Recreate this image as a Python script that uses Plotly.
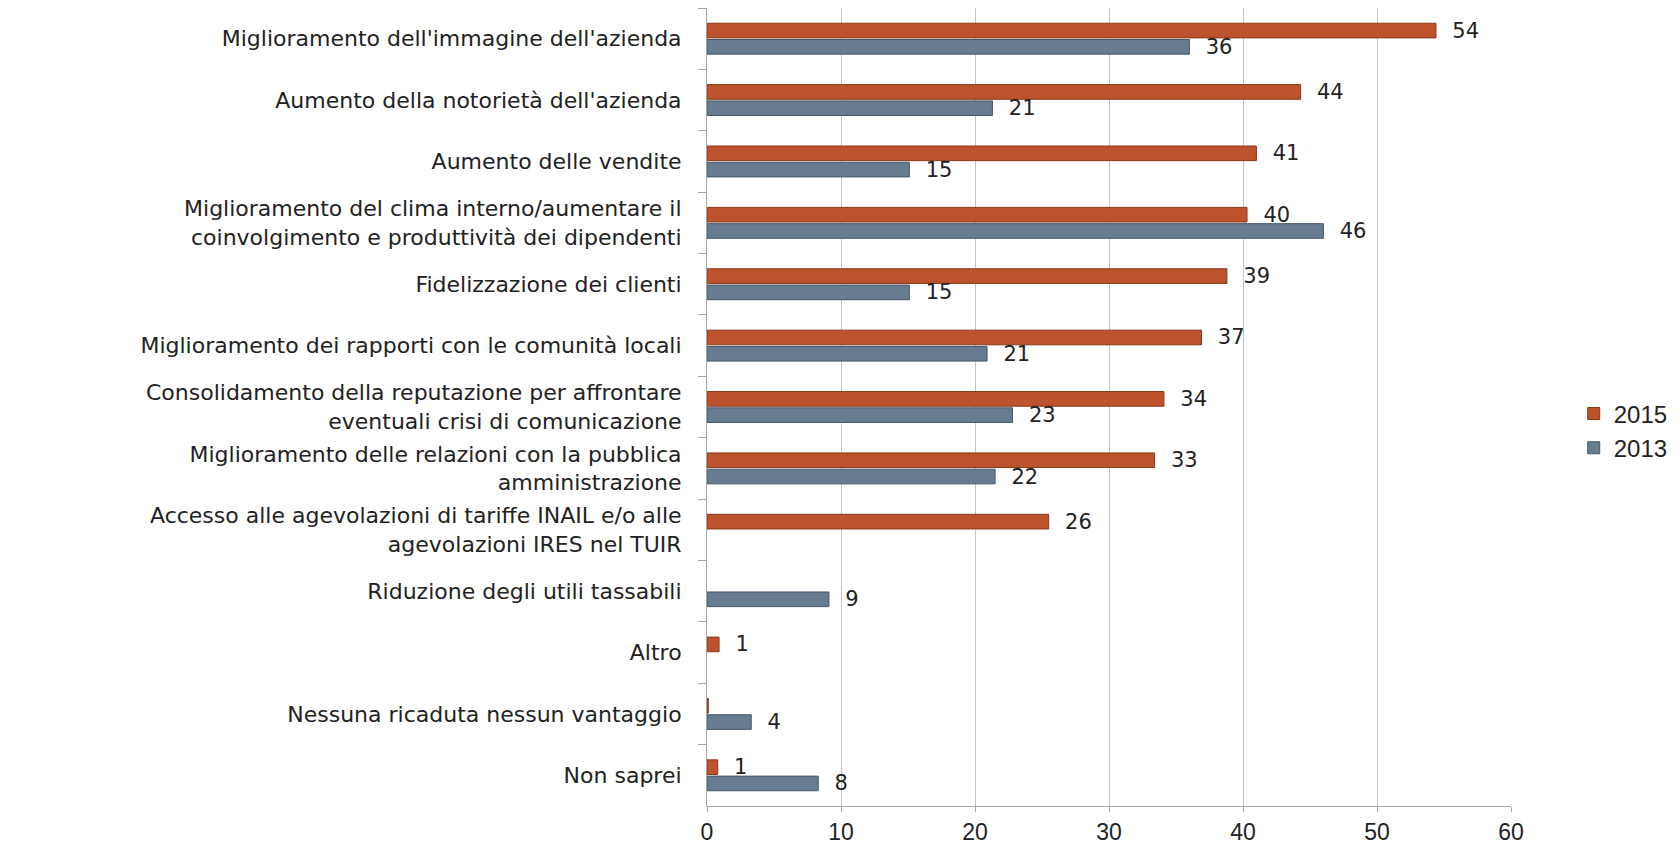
import plotly.graph_objects as go

categories = [
    "Miglioramento dell'immagine dell'azienda",
    "Aumento della notorietà dell'azienda",
    "Aumento delle vendite",
    "Miglioramento del clima interno/aumentare il<br>coinvolgimento e produttività dei dipendenti",
    "Fidelizzazione dei clienti",
    "Miglioramento dei rapporti con le comunità locali",
    "Consolidamento della reputazione per affrontare<br>eventuali crisi di comunicazione",
    "Miglioramento delle relazioni con la pubblica<br>amministrazione",
    "Accesso alle agevolazioni di tariffe INAIL e/o alle<br>agevolazioni IRES nel TUIR",
    "Riduzione degli utili tassabili",
    "Altro",
    "Nessuna ricaduta nessun vantaggio",
    "Non saprei",
]
values_2015 = [54.4, 44.3, 41, 40.3, 38.8, 36.9, 34.1, 33.4, 25.5, None, 0.9, 0.1, 0.8]
values_2013 = [36.0, 21.3, 15.1, 46.0, 15.1, 20.9, 22.8, 21.5, None, 9.1, None, 3.3, 8.3]
labels_2015 = ["54", "44", "41", "40", "39", "37", "34", "33", "26", "", "1", "", "1"]
labels_2013 = ["36", "21", "15", "46", "15", "21", "23", "22", "", "9", "", "4", "8"]
x_ticks = [0, 10, 20, 30, 40, 50, 60]

label_font = dict(family="DejaVu Sans", size=21, color="#222222")

fig = go.Figure()
fig.add_trace(go.Bar(
    name="2015", y=categories, x=values_2015, orientation="h",
    text=["  " + t if t else "" for t in labels_2015], textposition="outside",
    constraintext="none", cliponaxis=False, textfont=label_font,
    marker=dict(color="#BC532C", line=dict(color="#8A381A", width=1)),
))
fig.add_trace(go.Bar(
    name="2013", y=categories, x=values_2013, orientation="h",
    text=["  " + t if t else "" for t in labels_2013], textposition="outside",
    constraintext="none", cliponaxis=False, textfont=label_font,
    marker=dict(color="#677C91", line=dict(color="#45576A", width=1)),
))

fig.update_layout(
    width=1664, height=842,
    barmode="group", bargap=0.47, bargroupgap=0.1,
    plot_bgcolor="white", paper_bgcolor="white",
    margin=dict(l=699, r=161, t=0, b=44, autoexpand=False),
    font=dict(family="DejaVu Sans", color="#222222"),
    legend=dict(x=1.078, y=0.47, xanchor="left", yanchor="middle",
                font=dict(size=24, family="Liberation Sans, Arial", color="#222222"),
                traceorder="normal", itemwidth=30),
    showlegend=True,
)
fig.update_xaxes(
    range=[0, 60], tickvals=x_ticks, ticktext=[str(v) for v in x_ticks],
    showgrid=True, gridcolor="#C4C4C4", gridwidth=1,
    showline=True, linecolor="#A8A8A8", linewidth=1,
    ticks="outside", ticklen=5, tickcolor="#A8A8A8",
    tickfont=dict(size=23, family="Liberation Sans, Arial", color="#222222"),
    zeroline=False, fixedrange=True,
)
fig.update_yaxes(
    autorange="reversed",
    showline=True, linecolor="#A8A8A8", linewidth=1,
    ticks="outside", ticklen=8, tickcolor="#A8A8A8", tickson="boundaries",
    tickfont=dict(size=22, family="DejaVu Sans", color="#222222"),
    ticklabelstandoff=20,
    showgrid=False, fixedrange=True,
)

fig.write_html("out.html")
